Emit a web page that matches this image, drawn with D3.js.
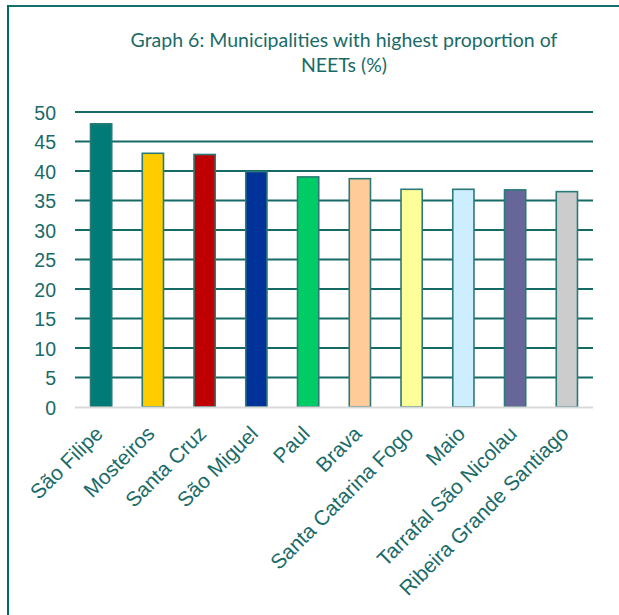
<!DOCTYPE html>
<html>
<head>
<meta charset="utf-8">
<script src="https://cdn.jsdelivr.net/npm/d3@7"></script>
<style>
  html, body { margin: 0; padding: 0; background: #fff; }
  svg { display: block; }
</style>
</head>
<body>
<svg id="chart" width="619" height="615"></svg>
<script>
// Share of NEETs by municipality (%)
const municipalities = [
  "São Filipe", "Mosteiros", "Santa Cruz", "São Miguel", "Paul",
  "Brava", "Santa Catarina Fogo", "Maio", "Tarrafal São Nicolau", "Ribeira Grande Santiago"
];
const neetShare = [48.0, 43.0, 42.8, 39.9, 39.0, 38.7, 36.9, 36.9, 36.8, 36.5];
const barColors = [
  "#007b78", "#ffcc00", "#c00000", "#003399", "#00cc66",
  "#ffcc99", "#ffff99", "#cceeff", "#666699", "#cccccc"
];
const yTicks = [0, 5, 10, 15, 20, 25, 30, 35, 40, 45, 50];
const titleLines = ["Graph 6: Municipalities with highest proportion of", "NEETs (%)"];

const teal = "#1a6b68";
const svg = d3.select("#chart");

// frame: top and left rules
svg.append("line").attr("x1", 7).attr("x2", 619).attr("y1", 6).attr("y2", 6)
  .attr("stroke", "#15706b").attr("stroke-width", 2);
svg.append("line").attr("x1", 8).attr("x2", 8).attr("y1", 5).attr("y2", 615)
  .attr("stroke", "#006b66").attr("stroke-width", 2);

// title
svg.append("g").selectAll("text").data(titleLines).join("text")
  .attr("x", 344).attr("y", (d, i) => 47 + i * 25)
  .attr("text-anchor", "middle")
  .attr("font-family", "Lato, 'Open Sans', sans-serif")
  .attr("font-size", 19.5)
  .attr("fill", teal)
  .text(d => d);

const margin = { left: 75, right: 593, top: 112, bottom: 407 };

const x = d3.scaleBand().domain(municipalities)
  .range([margin.left, margin.right]).paddingInner(0.59).paddingOuter(0.3);
const y = d3.scaleLinear().domain([0, 50]).range([margin.bottom, margin.top]);

// gridlines
svg.append("g").selectAll("line").data(yTicks.filter(t => t > 0)).join("line")
  .attr("x1", margin.left).attr("x2", margin.right)
  .attr("y1", d => y(d)).attr("y2", d => y(d))
  .attr("stroke", "#166a66").attr("stroke-width", 2);

// y-axis labels
const yAxis = d3.axisLeft(y).tickValues(yTicks).tickSize(0).tickPadding(0);
const yg = svg.append("g").attr("transform", `translate(56,0)`).call(yAxis);
yg.select(".domain").remove();
yg.selectAll("text")
  .attr("font-family", "'Liberation Sans', Arial, sans-serif")
  .attr("font-size", 19.5)
  .attr("fill", teal)
  .attr("dy", "0.36em");

// bars
svg.append("g").selectAll("rect").data(municipalities).join("rect")
  .attr("x", d => x(d))
  .attr("y", (d, i) => y(neetShare[i]))
  .attr("width", x.bandwidth())
  .attr("height", (d, i) => y(0) - y(neetShare[i]))
  .attr("fill", (d, i) => barColors[i])
  .attr("stroke", "#2b7a77").attr("stroke-width", 1.6);

// baseline
svg.append("line").attr("x1", margin.left).attr("x2", margin.right)
  .attr("y1", y(0) + 0.5).attr("y2", y(0) + 0.5)
  .attr("stroke", "#d9d9d9").attr("stroke-width", 2);

// category labels
const xAxis = d3.axisBottom(x).tickSize(0).tickPadding(0);
const xg = svg.append("g").attr("transform", `translate(0,${y(0)})`).call(xAxis);
xg.select(".domain").remove();
xg.selectAll("text")
  .attr("font-family", "'Liberation Sans', Arial, sans-serif")
  .attr("font-size", 20.8)
  .attr("fill", teal)
  .attr("text-anchor", "end")
  .attr("dy", null)
  .attr("transform", "translate(3,28) rotate(-45)");
</script>
</body>
</html>
